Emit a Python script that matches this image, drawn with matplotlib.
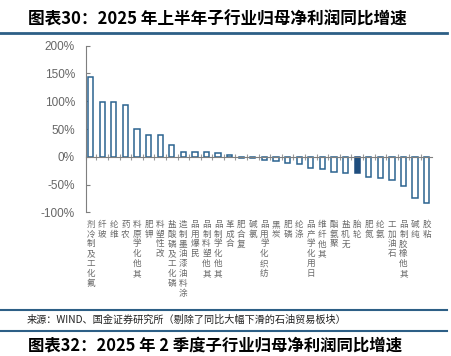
import matplotlib.pyplot as plt
import matplotlib.transforms as mtransforms

plt.rcParams['font.family'] = ['Noto Sans CJK SC', 'DejaVu Sans']

# sub-industries, sorted by growth
industries = ['氟化工及制冷剂', '玻纤', '维纶', '农药', '其他化学原料', '钾肥', '改性塑料',
              '磷化工及磷酸盐', '涂料油漆油墨制造', '民爆用品', '其他塑料制品', '其他化学制品',
              '合成革', '复合肥', '氯碱', '纺织化学用品', '炭黑', '磷肥', '涤纶', '日用化学产品',
              '其他纤维', '聚氨酯', '无机盐', '轮胎', '氮肥', '氨纶', '石油加工', '其他橡胶制品',
              '纯碱', '粘胶']
growth = [143, 99, 98, 93, 50, 40, 39, 21, 9, 8, 8, 6, 4, -3, -3,
          -5, -8, -11, -13, -20, -22, -27, -29, -30, -37, -38, -42, -53, -74, -83]
highlight = '轮胎'
yticks = [-100, -50, 0, 50, 100, 150, 200]

title = '图表30：2025 年上半年子行业归母净利润同比增速'
source = '来源：WIND、国金证券研究所（剔除了同比大幅下滑的石油贸易板块）'
next_title = '图表32：2025 年 2 季度子行业归母净利润同比增速'

W, H = 452, 356
fig = plt.figure(figsize=(W / 100, H / 100), dpi=100)
ax = fig.add_axes([86 / W, 1 - 212.3 / H, (432 - 86) / W, (212.3 - 45.7) / H])

x = list(range(len(industries)))
for i, (name, v) in enumerate(zip(industries, growth)):
    if name == highlight:
        ax.bar(i, v, width=0.45, color='#1f4e7e', edgecolor='#1f4e7e', linewidth=1.1, zorder=3)
    else:
        ax.bar(i, v, width=0.45, color='white', edgecolor='#2b6390', linewidth=1.1, zorder=3)

ax.set_xlim(-0.4, len(industries) - 1 + 0.46)
ax.set_ylim(-100, 200)
ax.set_yticks(yticks)
ax.set_yticklabels([f'{t}%' for t in yticks], fontsize=8.5, color='#666666',
                   family='Liberation Sans')

for s in ['top', 'right']:
    ax.spines[s].set_visible(False)
ax.spines['left'].set_color('#7f7f7f')
ax.spines['bottom'].set_color('#7f7f7f')
ax.spines['bottom'].set_position(('data', 0))
ax.spines['bottom'].set_zorder(4)
ax.set_xticks([i + 0.5 for i in x[:-1]] + [-0.4])
ax.set_xticklabels([])
ax.tick_params(axis='x', direction='inout', length=4, color='#999999', width=0.8)
ax.tick_params(axis='y', direction='in', length=3, color='#7f7f7f', width=0.8, pad=8)

# stacked labels, read from bottom to top
trans = mtransforms.blended_transform_factory(ax.transData, ax.transAxes)
for i, name in enumerate(industries):
    ax.text(i, -0.045, '\n'.join(reversed(name)), transform=trans, ha='center', va='top',
            fontsize=6.2, color='#6a6a6a', linespacing=1.12)

# title, rules and footer
fig.text(28 / W, 1 - 20 / H, title, fontsize=12, fontweight='bold', style='italic',
         color='black', va='center', ha='left')
for yy, lw in [(32.5, 2), (309.5, 1.5), (331, 1.5)]:
    fig.add_artist(plt.Line2D([0, 447 / W], [1 - yy / H, 1 - yy / H],
                              color='#2d5f86', linewidth=lw))
fig.text(27 / W, 1 - 320 / H, source, fontsize=7.3, color='#222222', va='center', ha='left')
fig.text(28 / W, 1 - 336 / H, next_title, fontsize=11.8, fontweight='bold', style='italic',
         color='black', va='top', ha='left')

fig.savefig('out.png', dpi=100)
